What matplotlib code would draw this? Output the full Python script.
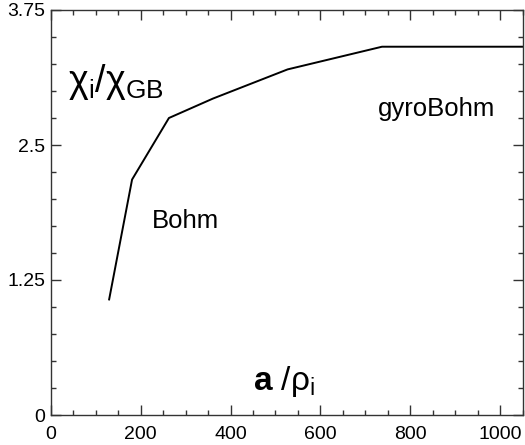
import matplotlib
matplotlib.use('Agg')
import matplotlib.pyplot as plt
from matplotlib.ticker import MultipleLocator

# a/rho_i values and normalised ion heat diffusivity
a_over_rho = [130, 181, 263, 361, 527, 737, 1050]
chi_ratio = [1.07, 2.18, 2.75, 2.93, 3.20, 3.41, 3.41]

x_ticks = [0, 200, 400, 600, 800, 1000]
y_ticks = [0, 1.25, 2.5, 3.75]
y_tick_labels = ['0', '1.25', '2.5', '3.75']

plt.rcParams['font.family'] = ['Liberation Sans', 'DejaVu Sans']
plt.rcParams['mathtext.fontset'] = 'custom'
plt.rcParams['mathtext.rm'] = 'Liberation Sans'
plt.rcParams['mathtext.it'] = 'Liberation Sans:italic'
plt.rcParams['mathtext.bf'] = 'Liberation Sans:bold'


def main():
    fig = plt.figure(figsize=(5.25, 4.45), dpi=100)
    ax = fig.add_axes([50.7 / 525, 30 / 445, 472 / 525, 405 / 445])

    ax.plot(a_over_rho, chi_ratio, color='black', linewidth=1.4)

    ax.set_xlim(0, 1050)
    ax.set_ylim(0, 3.75)
    ax.set_xticks(x_ticks)
    ax.set_yticks(y_ticks)
    ax.set_yticklabels(y_tick_labels)
    ax.xaxis.set_minor_locator(MultipleLocator(50))
    ax.yaxis.set_minor_locator(MultipleLocator(0.25))
    ax.tick_params(which='both', direction='in', top=True, right=True,
                   width=1.0, color='#333333', labelsize=14)
    ax.tick_params(which='major', length=7.5)
    ax.tick_params(which='minor', length=3.5)
    ax.tick_params(axis='x', pad=8)
    ax.tick_params(axis='y', pad=4)
    for spine in ax.spines.values():
        spine.set_linewidth(1.0)
        spine.set_color('#333333')

    # annotations inside the plot
    ax.text(38, 2.99, r'$\mathrm{\chi}_{\rm i}/\mathrm{\chi}_{\rm GB}$',
            fontsize=27, ha='left', va='baseline')
    ax.text(225, 1.73, 'Bohm', fontsize=18.5, ha='left', va='baseline')
    ax.text(728, 2.77, 'gyroBohm', fontsize=18.5, ha='left', va='baseline')
    ax.text(450, 0.23, r'$\mathbf{a}\ /\mathrm{\rho}_{\rm i}$', fontsize=24,
            ha='left', va='baseline')

    fig.savefig('out.png', dpi=100)


if __name__ == '__main__':
    main()
